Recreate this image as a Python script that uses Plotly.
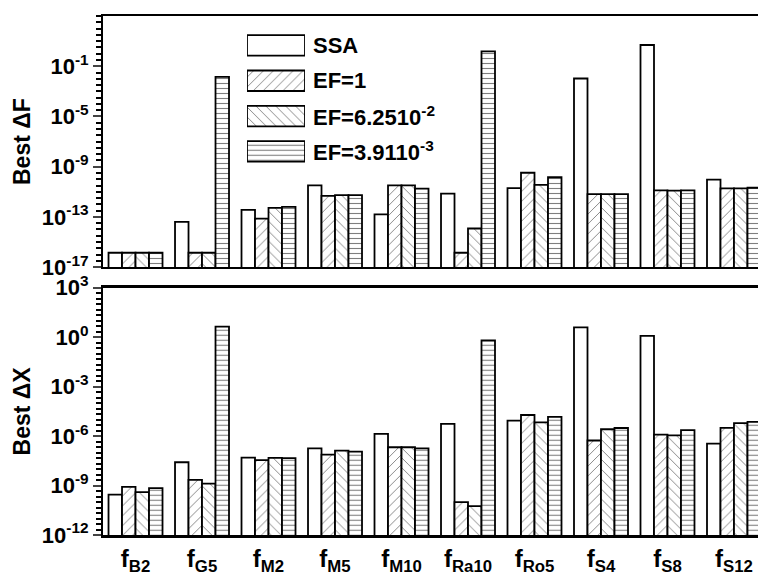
import numpy as np
import plotly.graph_objects as go

# ---------------- data ----------------
categories = ["f<sub>B2</sub>", "f<sub>G5</sub>", "f<sub>M2</sub>", "f<sub>M5</sub>", "f<sub>M10</sub>",
              "f<sub>Ra10</sub>", "f<sub>Ro5</sub>", "f<sub>S4</sub>", "f<sub>S8</sub>", "f<sub>S12</sub>"]
series_names = ["SSA", "EF=1", "EF=6.2510<sup>-2</sup>", "EF=3.9110<sup>-3</sup>"]

# Best ΔF (top panel)
dF_ssa = [1.4e-16, 4.0e-14, 3.7e-13, 3.2e-11, 1.6e-13, 7.2e-12, 2.0e-11, 1.05e-2, 4.9, 9.5e-11]
dF_ef1 = [1.4e-16, 1.4e-16, 7.4e-14, 4.8e-12, 3.2e-11, 1.4e-16, 3.3e-10, 6.5e-12, 1.3e-11, 1.9e-11]
dF_ef2 = [1.4e-16, 1.4e-16, 5.2e-13, 5.4e-12, 3.2e-11, 1.2e-14, 3.6e-11, 6.5e-12, 1.26e-11, 1.9e-11]
dF_ef3 = [1.4e-16, 1.4e-2, 6.3e-13, 5.4e-12, 1.8e-11, 1.5, 1.45e-10, 6.5e-12, 1.3e-11, 2.1e-11]

# Best ΔX (bottom panel)
dX_ssa = [2.8e-10, 2.6e-8, 5.0e-8, 1.8e-7, 1.35e-6, 5.5e-6, 8.7e-6, 4.0, 1.2, 3.5e-7]
dX_ef1 = [8.3e-10, 2.2e-9, 3.5e-8, 7.6e-8, 2.1e-7, 1.0e-10, 1.9e-5, 5.4e-7, 1.23e-6, 3.2e-6]
dX_ef2 = [4.0e-10, 1.3e-9, 4.8e-8, 1.3e-7, 2.1e-7, 5.6e-11, 6.8e-6, 2.6e-6, 1.12e-6, 6.2e-6]
dX_ef3 = [6.9e-10, 4.4, 4.6e-8, 1.15e-7, 1.8e-7, 0.63, 1.45e-5, 3.1e-6, 2.3e-6, 7.2e-6]

top_ticks = [-17, -13, -9, -5, -1]
bot_ticks = [-12, -9, -6, -3, 0, 3]

# ---------------- styling ----------------
FONT = "Liberation Sans, Arial, sans-serif"
patterns = ["", "/", "\\", "-"]
pat_size = [8, 7, 7, 5]
pat_solid = [0.1, 0.13, 0.13, 0.22]

W, H = 758, 584
ML, MR, MT, MB = 103, 0, 6, 49
plot_h = H - MT - MB
top_dom = [(535 - 262) / plot_h, 1.0]
bot_dom = [0.0, (535 - 283) / plot_h]
xrange = [-0.489, 9.361]

x_idx = list(range(len(categories)))

fig = go.Figure()
top_sets = [dF_ssa, dF_ef1, dF_ef2, dF_ef3]
bot_sets = [dX_ssa, dX_ef1, dX_ef2, dX_ef3]
for i, name in enumerate(series_names):
    mk = dict(color="white", line=dict(color="black", width=1.8),
              pattern=dict(shape=patterns[i], fgcolor="black", bgcolor="white",
                           size=pat_size[i], solidity=pat_solid[i]))
    fig.add_trace(go.Bar(x=x_idx, y=top_sets[i], name=name, marker=mk,
                         xaxis="x2", yaxis="y2", showlegend=False))
    fig.add_trace(go.Bar(x=x_idx, y=bot_sets[i], name=name, marker=mk,
                         xaxis="x", yaxis="y", showlegend=False))

# custom legend (wide swatches) on its own axes
fig.add_trace(go.Bar(
    y=list(range(4)), x=[1, 1, 1, 1], orientation="h", width=0.58,
    marker=dict(color="white", line=dict(color="black", width=1.8),
                pattern=dict(shape=patterns, fgcolor="black", bgcolor="white",
                             size=pat_size, solidity=pat_solid)),
    xaxis="x3", yaxis="y3", showlegend=False, cliponaxis=False, hoverinfo="skip"))

leg_x0 = (247 - ML) / (W - ML)
leg_x1 = (305 - ML) / (W - ML)
leg_top, leg_bot = 18, 162
for i, name in enumerate(series_names):
    fig.add_annotation(x=(311 - ML) / (W - ML), xref="paper", y=i, yref="y3",
                       text="<b>" + name + "</b>", showarrow=False, xanchor="left",
                       yanchor="middle", font=dict(family=FONT, size=22, color="black"))


def sup_labels(exps):
    return ["<b>10<sup>%d</sup></b>" % e for e in exps]


axis_common = dict(showline=True, linecolor="black", linewidth=2, showgrid=False,
                   zeroline=False)

fig.update_layout(
    width=W, height=H, margin=dict(l=ML, r=MR, t=MT, b=MB),
    paper_bgcolor="white", plot_bgcolor="white",
    barmode="group", bargap=0.188, bargroupgap=0,
    font=dict(family=FONT, color="black"),
    xaxis=dict(domain=[0, 1], anchor="y", range=xrange, tickmode="array",
               tickvals=x_idx, ticktext=["<b>" + c + "</b>" for c in categories],
               ticks="", mirror=True, tickfont=dict(family=FONT, size=24),
               showline=True, linecolor="black", linewidth=2.5, showgrid=False, zeroline=False),
    xaxis2=dict(domain=[0, 1], anchor="y2", range=xrange, matches="x", showticklabels=False,
                ticks="", mirror=True, **axis_common),
    yaxis=dict(domain=bot_dom, anchor="x", type="log", range=[-12, 3],
               tickmode="array", tickvals=[10.0 ** e for e in bot_ticks],
               ticktext=sup_labels(bot_ticks), ticks="outside", ticklen=8, tickwidth=2,
               minor=dict(tickvals=[10.0 ** (k / 3) for k in range(-36, 10)],
                          ticks="outside", ticklen=5, tickwidth=2, tickcolor="black"),
               tickfont=dict(family=FONT, size=22),
               title=dict(text="<b>Best ΔX</b>", font=dict(family=FONT, size=23), standoff=5),
               **axis_common),
    yaxis2=dict(domain=top_dom, anchor="x2", type="log", range=[-17, 3],
                tickmode="array", tickvals=[10.0 ** e for e in top_ticks],
                ticktext=sup_labels(top_ticks), ticks="outside", ticklen=8, tickwidth=2,
                minor=dict(tickvals=[10.0 ** (k / 2) for k in range(-34, 7)],
                           ticks="outside", ticklen=5, tickwidth=2, tickcolor="black"),
                tickfont=dict(family=FONT, size=22),
                title=dict(text="<b>Best ΔF</b>", font=dict(family=FONT, size=23), standoff=5),
                **axis_common),
    xaxis3=dict(domain=[leg_x0, leg_x1], anchor="y3", range=[0, 1], visible=False),
    yaxis3=dict(domain=[(535 - leg_bot) / plot_h, (535 - leg_top) / plot_h], anchor="x3",
                range=[3.5, -0.5], visible=False),
)

fig.write_html("out.html")
